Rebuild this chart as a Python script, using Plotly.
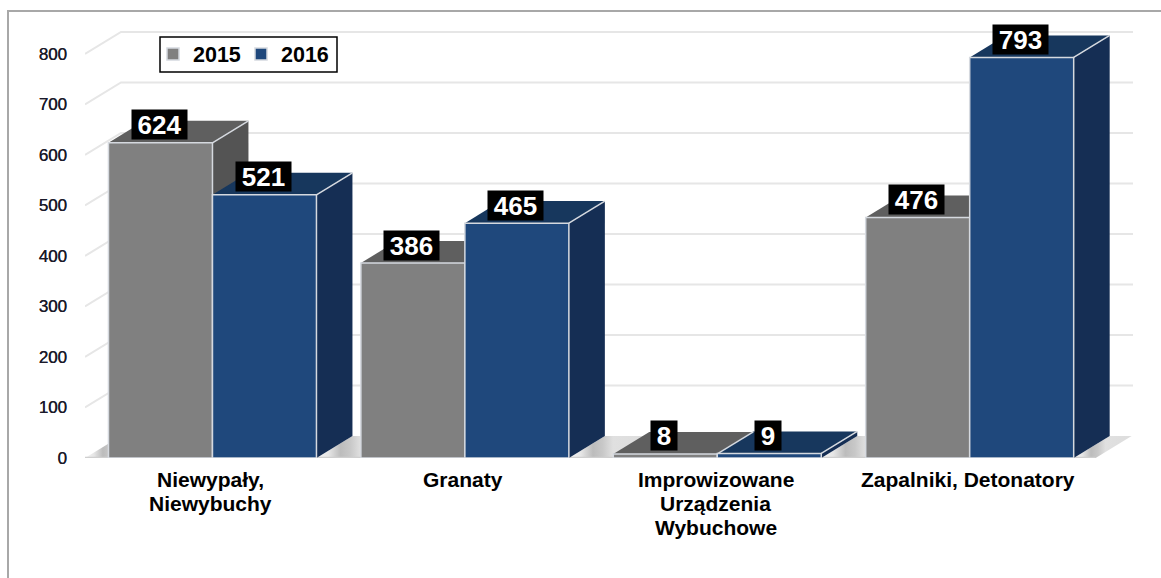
"""Dwa lata, cztery kategorie: słupki z imitacją 3D w Plotly."""

import plotly.graph_objects as go

category_lines = [["Niewypały,", "Niewybuchy"], ["Granaty"],
                  ["Improwizowane", "Urządzenia", "Wybuchowe"], ["Zapalniki, Detonatory"]]
values_2015 = [624, 386, 8, 476]
values_2016 = [521, 465, 9, 793]
y_ticks = [0, 100, 200, 300, 400, 500, 600, 700, 800]

WIDTH, HEIGHT = 1161, 578
FONT = "Liberation Sans"
GRAY = dict(front="#808080", top="#5f5f5f", side="#545454")
BLUE = dict(front="#1f487c", top="#17375d", side="#152e54")
EDGE = "#d5d9df"

# depth of the fake 3D box, in axis units
DX = 0.1426
DY = 43.6
BAR = 0.412
X_RANGE = [-0.505, 3.647]
Y_RANGE = [0, 887]
FLOOR_END = 3 + BAR + 0.087


def poly(xs, ys, color=None, gradient=None):
    trace = dict(x=xs + xs[:1], y=ys + ys[:1], mode="lines", fill="toself",
                 line=dict(width=0), hoverinfo="skip", showlegend=False)
    if gradient:
        trace["fillgradient"] = gradient
    else:
        trace["fillcolor"] = color
    return go.Scatter(**trace)


fig = go.Figure()

# back wall gridlines, with the short diagonal on the side wall
grid_x, grid_y = [], []
for v in y_ticks[1:]:
    grid_x += [X_RANGE[0], X_RANGE[0] + DX, X_RANGE[1], None]
    grid_y += [v, v + DY, v + DY, None]
fig.add_trace(go.Scatter(x=grid_x, y=grid_y, mode="lines", hoverinfo="skip", showlegend=False,
                         line=dict(color="#e6e6e6", width=2)))

# floor pieces between the bars
floor_grad = dict(type="horizontal",
                  colorscale=[[0, "#f4f4f4"], [0.15, "#e6e6e6"], [0.3, "#bcbcbc"],
                              [0.42, "#c8c8c8"], [0.55, "#e0e0e0"], [1, "#dddddd"]])
edges = [X_RANGE[0]]
for i in range(len(category_lines)):
    edges += [i - BAR, i + BAR]
edges.append(FLOOR_END)
for a, b in zip(edges[0::2], edges[1::2]):
    fig.add_trace(poly([a, b, b + DX, a + DX], [0, 0, DY, DY], gradient=floor_grad))
fig.add_trace(go.Scatter(x=[X_RANGE[0], FLOOR_END], y=[0, 0], mode="lines", hoverinfo="skip",
                         showlegend=False, line=dict(color="#cfcfcf", width=2.5)))

# side and top faces, back to front
edge_x, edge_y = [], []
for i in range(len(category_lines)):
    for left, v, col in ((i - BAR, values_2015[i], GRAY), (i, values_2016[i], BLUE)):
        right = left + BAR
        fig.add_trace(poly([right, right + DX, right + DX, right], [0, DY, v + DY, v], col["side"]))
        fig.add_trace(poly([left, right, right + DX, left + DX], [v, v, v + DY, v + DY], col["top"]))
        edge_x += [right, right + DX, None]
        edge_y += [v, v + DY, None]
fig.add_trace(go.Scatter(x=edge_x, y=edge_y, mode="lines", hoverinfo="skip", showlegend=False,
                         line=dict(color=EDGE, width=1.5)))

# front faces live on an overlaying axis pair so they sit above the faces
x_pos = list(range(len(category_lines)))
for name, vals, col in (("2015", values_2015, GRAY), ("2016", values_2016, BLUE)):
    fig.add_trace(go.Bar(x=x_pos, y=vals, name=name, xaxis="x2", yaxis="y2",
                         width=BAR, offset=-BAR if name == "2015" else 0,
                         marker=dict(color=col["front"], line=dict(color=EDGE, width=1.5))))

# black value labels
for i in x_pos:
    for v, cx in ((values_2015[i], i - BAR / 2), (values_2016[i], i + BAR / 2)):
        text = str(v)
        fig.add_annotation(x=cx, y=v, xref="x", yref="y", yshift=18, xshift=-1, text=f"<b>{text}</b>",
                           showarrow=False, bgcolor="black", width=53 if len(text) == 3 else 24,
                           height=27, align="center", valign="middle",
                           font=dict(family=FONT, size=26, color="white"))

# category labels, one annotation per line because the line spacing is tighter than plotly's
for i, lines in enumerate(category_lines):
    for k, line in enumerate(lines):
        fig.add_annotation(x=i, y=1 - (479 + 24 * k) / HEIGHT, xref="x", yref="paper", xshift=-1.5,
                           text=line, showarrow=False, xanchor="center", yanchor="middle",
                           borderpad=0,
                           font=dict(family=FONT, size=21, weight=700, color="black"))

# outer frame of the picture, open on the right and at the bottom
fig.add_shape(type="path", xref="paper", yref="paper",
              path=f"M {8 / WIDTH} 0 L {8 / WIDTH} {1 - 11 / HEIGHT} L 1 {1 - 11 / HEIGHT}",
              line=dict(color="#a8a8a8", width=2))
# legend box
fig.add_shape(type="rect", xref="paper", yref="paper", x0=160 / WIDTH, x1=337 / WIDTH,
              y0=1 - 72 / HEIGHT, y1=1 - 37 / HEIGHT, line=dict(color="black", width=1.5))

axis_domain = [85 / WIDTH, 1133 / WIDTH]
y_domain = [(HEIGHT - 458) / HEIGHT, (HEIGHT - 10) / HEIGHT]
fig.update_layout(
    width=WIDTH,
    height=HEIGHT,
    margin=dict(l=0, r=0, t=0, b=0, autoexpand=False),
    plot_bgcolor="white",
    paper_bgcolor="white",
    barmode="overlay",
    font=dict(family=FONT, color="black"),
    xaxis=dict(domain=axis_domain, range=X_RANGE, showgrid=False, zeroline=False, showline=False,
               ticks="", showticklabels=False, automargin=False),
    yaxis=dict(domain=y_domain, range=Y_RANGE, tickvals=y_ticks, showgrid=False, zeroline=False,
               showline=False, ticks="", ticklabelstandoff=17, automargin=False,
               tickfont=dict(family=FONT, size=17, color="#1a1a2a", shadow="0.3px 0 0 #1a1a2a")),
    xaxis2=dict(domain=axis_domain, range=X_RANGE, overlaying="x", visible=False),
    yaxis2=dict(domain=y_domain, range=Y_RANGE, overlaying="y", visible=False),
    legend=dict(orientation="h", x=153 / WIDTH, y=1 - 54 / HEIGHT, xanchor="left", yanchor="middle",
                borderwidth=0, bgcolor="rgba(0,0,0,0)", entrywidth=43, entrywidthmode="pixels",
                font=dict(family=FONT, size=21.5, weight=700, color="black"),
                itemclick=False, itemdoubleclick=False),
    showlegend=True,
)

fig.write_html("out.html", config={"displayModeBar": False},
               post_script="document.body.style.margin='0';")
